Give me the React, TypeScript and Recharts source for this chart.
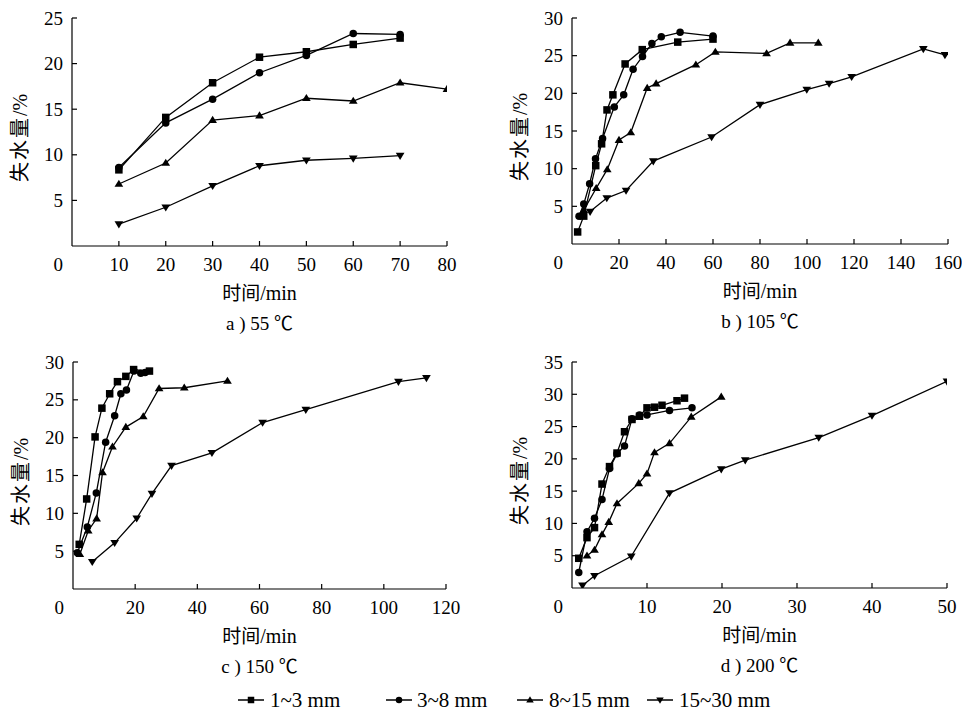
import React from 'react';
import { LineChart, Line, XAxis, YAxis } from 'recharts';

const FONT = "'Liberation Serif', 'Times New Roman', 'Noto Sans CJK SC', serif";
const CJK_FONT = "'Noto Sans CJK SC', 'Liberation Serif', serif";

// ---------- a) 55 ℃ ----------
const aX13 = [10, 20, 30, 40, 50, 60, 70];
const aY13 = [8.35, 14.1, 17.9, 20.7, 21.3, 22.1, 22.8];
const aX38 = [10, 20, 30, 40, 50, 60, 70];
const aY38 = [8.6, 13.5, 16.1, 19.0, 20.9, 23.3, 23.2];
const aX815 = [10, 20, 30, 40, 50, 60, 70, 80];
const aY815 = [6.8, 9.1, 13.8, 14.3, 16.2, 15.9, 17.9, 17.2];
const aX1530 = [10, 20, 30, 40, 50, 60, 70];
const aY1530 = [2.4, 4.25, 6.6, 8.8, 9.4, 9.6, 9.9];

// ---------- b) 105 ℃ ----------
const bX13 = [2.4, 5, 10.1, 12.6, 14.9, 17.4, 22.6, 29.9, 45, 60];
const bY13 = [1.6, 3.7, 10.4, 13.3, 17.8, 19.8, 23.9, 25.8, 26.8, 27.2];
const bX38 = [3, 5, 7.5, 10, 13, 18, 22, 26, 30, 34, 38, 46, 60];
const bY38 = [3.7, 5.3, 8, 11.3, 14, 18.2, 19.8, 23.2, 24.9, 26.6, 27.5, 28.1, 27.6];
const bX815 = [5, 10.3, 15, 20, 25, 32, 35.8, 52.7, 61, 82.8, 92.8, 104.8];
const bY815 = [4.5, 7.4, 9.9, 13.8, 14.8, 20.7, 21.3, 23.8, 25.5, 25.3, 26.7, 26.7];
const bX1530 = [7.7, 14.8, 23, 34.6, 59.4, 80, 99.9, 109.4, 119, 149.5, 158.7];
const bY1530 = [4.3, 6.1, 7.1, 11.0, 14.2, 18.5, 20.5, 21.3, 22.2, 25.9, 25.1];

// ---------- c) 150 ℃ ----------
const cX13 = [2, 4.4, 7.1, 9.3, 11.8, 14.3, 17, 19.5, 24.6];
const cY13 = [5.9, 11.9, 20.1, 23.9, 25.8, 27.4, 28.1, 29.0, 28.8];
const cX38 = [1.4, 4.6, 7.5, 10.5, 13.4, 15.4, 17.2, 19.6, 21.8, 23.2];
const cY38 = [4.8, 8.2, 12.7, 19.4, 22.9, 25.8, 26.3, 28.8, 28.5, 28.6];
const cX815 = [2.2, 4.9, 7.6, 9.5, 12.7, 17, 22.6, 27.7, 35.8, 49.7];
const cY815 = [4.6, 7.7, 9.3, 15.4, 18.8, 21.4, 22.8, 26.5, 26.6, 27.5];
const cX1530 = [6.2, 13.4, 20.5, 25.4, 31.7, 44.7, 61, 74.9, 104.7, 113.7];
const cY1530 = [3.6, 6.1, 9.35, 12.6, 16.3, 18.0, 22.0, 23.7, 27.4, 27.9];

// ---------- d) 200 ℃ ----------
const dX13 = [0.9, 2, 3, 4, 5, 6, 7, 8, 9, 10, 11, 12, 14, 15];
const dY13 = [4.6, 7.8, 9.35, 16.1, 18.8, 20.9, 24.2, 26.1, 26.6, 27.9, 28.0, 28.3, 29.0, 29.4];
const dX38 = [0.9, 2, 3, 4, 5, 6, 7, 8, 9, 10, 13, 16];
const dY38 = [2.4, 8.7, 10.8, 13.7, 18.5, 20.8, 22.0, 26.2, 26.8, 26.8, 27.5, 27.9];
const dX815 = [2, 3, 4, 4.9, 6, 8.9, 10, 11, 13, 15.9, 19.9];
const dY815 = [5.0, 5.9, 8.3, 10.2, 13.1, 16.2, 17.7, 21.0, 22.4, 26.5, 29.6];
const dX1530 = [1.4, 3, 7.9, 13, 19.9, 23.1, 32.9, 40, 50];
const dY1530 = [0.4, 1.9, 4.9, 14.7, 18.4, 19.8, 23.3, 26.7, 32.0];

// ---------- ticks & labels ----------
const xTicksA = [0, 10, 20, 30, 40, 50, 60, 70, 80];
const yTicksA = [5, 10, 15, 20, 25];
const xTicksB = [0, 20, 40, 60, 80, 100, 120, 140, 160];
const yTicksB = [5, 10, 15, 20, 25, 30];
const xTicksC = [0, 20, 40, 60, 80, 100, 120];
const yTicksC = [5, 10, 15, 20, 25, 30];
const xTicksD = [0, 10, 20, 30, 40, 50];
const yTicksD = [5, 10, 15, 20, 25, 30, 35];

const seriesLabels = ['1~3 mm', '3~8 mm', '8~15 mm', '15~30 mm'];
const markerShapes = ['square', 'circle', 'up', 'down'];
const panelTitles = ['a ) 55 ℃', 'b ) 105 ℃', 'c ) 150 ℃', 'd ) 200 ℃'];
const xAxisTitleCn = '时间';
const xAxisTitleUnit = '/min';
const yAxisTitleCn = '失水量';
const yAxisTitleUnit = '/%';

const TICK_FS = 19;

const zip = (xs: number[], ys: number[]) => xs.map((x, i) => ({ x, y: ys[i] }));

function Marker({ shape, cx, cy, s }: { shape: string; cx: number; cy: number; s: number }) {
  if (shape === 'square') {
    return <rect x={cx - s / 2} y={cy - s / 2} width={s} height={s} fill="#000" />;
  }
  if (shape === 'circle') {
    return <circle cx={cx} cy={cy} r={s / 2} fill="#000" />;
  }
  const h = s * 0.95;
  if (shape === 'up') {
    return (
      <polygon
        points={`${cx},${cy - h * 0.6} ${cx - s * 0.58},${cy + h * 0.4} ${cx + s * 0.58},${cy + h * 0.4}`}
        fill="#000"
      />
    );
  }
  return (
    <polygon
      points={`${cx},${cy + h * 0.6} ${cx - s * 0.58},${cy - h * 0.4} ${cx + s * 0.58},${cy - h * 0.4}`}
      fill="#000"
    />
  );
}

function makeDot(shape: string, size: number) {
  return (props: any) => {
    const { cx, cy, index } = props;
    if (cx == null || cy == null) return <g key={`e${index}`} />;
    return <Marker key={`m${index}`} shape={shape} cx={cx} cy={cy} s={size} />;
  };
}

const XTick = (props: any) => {
  const { x, y, payload } = props;
  const v = payload.value;
  if (v === 0) {
    return (
      <text x={x - 9} y={y + 25} textAnchor="end" fontSize={TICK_FS} fontFamily={FONT} fill="#000">
        0
      </text>
    );
  }
  return (
    <g>
      <line x1={x} x2={x} y1={y} y2={y - 5} stroke="#000" strokeWidth={1.2} />
      <text x={x} y={y + 25} textAnchor="middle" fontSize={TICK_FS} fontFamily={FONT} fill="#000">
        {v}
      </text>
    </g>
  );
};

const YTick = (props: any) => {
  const { x, y, payload } = props;
  return (
    <g>
      <line x1={x} x2={x + 5} y1={y} y2={y} stroke="#000" strokeWidth={1.2} />
      <text x={x - 9} y={y + 6.5} textAnchor="end" fontSize={TICK_FS} fontFamily={FONT} fill="#000">
        {payload.value}
      </text>
    </g>
  );
};

type PanelCfg = {
  left0: number;
  top0: number;
  W: number;
  H: number;
  plotL: number;
  plotT: number;
  plotR: number;
  plotB: number;
  xMax: number;
  yMax: number;
  xTicks: number[];
  yTicks: number[];
  series: { x: number; y: number }[][];
  title: string;
};

const Y_AXIS_W = 40;
const X_AXIS_H = 30;

function Panel({ cfg }: { cfg: PanelCfg }) {
  const margin = {
    top: cfg.plotT - cfg.top0,
    left: cfg.plotL - cfg.left0 - Y_AXIS_W,
    right: cfg.left0 + cfg.W - cfg.plotR,
    bottom: cfg.top0 + cfg.H - cfg.plotB - X_AXIS_H,
  };
  const cxPlot = (cfg.plotL + cfg.plotR) / 2;
  const cyPlot = (cfg.plotT + cfg.plotB) / 2;
  const labCx = cfg.plotL - 52;
  const labCy = cyPlot + 6;
  return (
    <>
      <div style={{ position: 'absolute', left: cfg.left0, top: cfg.top0 }}>
        <LineChart width={cfg.W} height={cfg.H} margin={margin}>
          <XAxis
            type="number"
            dataKey="x"
            domain={[0, cfg.xMax]}
            ticks={cfg.xTicks}
            interval={0}
            allowDataOverflow
            height={X_AXIS_H}
            tickSize={0}
            tickMargin={0}
            tickLine={false}
            axisLine={{ stroke: '#000', strokeWidth: 1.2 }}
            tick={<XTick />}
          />
          <YAxis
            type="number"
            domain={[0, cfg.yMax]}
            ticks={cfg.yTicks}
            interval={0}
            allowDataOverflow
            width={Y_AXIS_W}
            tickSize={0}
            tickMargin={0}
            tickLine={false}
            axisLine={{ stroke: '#000', strokeWidth: 1.2 }}
            tick={<YTick />}
          />
          {cfg.series.map((pts, i) => (
            <Line
              key={seriesLabels[i]}
              data={pts}
              dataKey="y"
              name={seriesLabels[i]}
              type="linear"
              stroke="#000"
              strokeWidth={1.3}
              isAnimationActive={false}
              dot={makeDot(markerShapes[i], 7.5)}
              activeDot={false}
            />
          ))}
        </LineChart>
      </div>
      <div
        style={{
          position: 'absolute',
          left: cxPlot - 100,
          width: 200,
          top: cfg.plotB + 36,
          textAlign: 'center',
          fontSize: 20,
          lineHeight: '20px',
          color: '#000',
        }}
      >
        <span style={{ fontFamily: CJK_FONT, fontSize: 19 }}>{xAxisTitleCn}</span>
        <span style={{ fontFamily: FONT }}>{xAxisTitleUnit}</span>
      </div>
      <div
        style={{
          position: 'absolute',
          left: cxPlot - 100,
          width: 200,
          top: cfg.plotB + 68,
          textAlign: 'center',
          fontFamily: FONT,
          fontSize: 19,
          lineHeight: '20px',
        }}
      >
        {cfg.title}
      </div>
      <svg
        width={40}
        height={140}
        style={{ position: 'absolute', left: labCx - 20, top: labCy - 70, overflow: 'visible' }}
      >
        <text
          x={0}
          y={0}
          transform="translate(27,70) rotate(-90)"
          textAnchor="middle"
          fontSize={20}
          fill="#000"
        >
          <tspan fontFamily={CJK_FONT} letterSpacing={2}>{yAxisTitleCn}</tspan>
          <tspan fontFamily={FONT}>{yAxisTitleUnit}</tspan>
        </text>
      </svg>
    </>
  );
}

function LegendIcon({ shape }: { shape: string }) {
  return (
    <svg width={26} height={12} style={{ display: 'block' }}>
      <line x1={0} x2={26} y1={6} y2={6} stroke="#000" strokeWidth={1.5} />
      <Marker shape={shape} cx={13} cy={6} s={6.5} />
    </svg>
  );
}

const legendLineX = [238, 386, 517, 647];
const legendTextX = [270, 417, 549, 679];

export default function App() {
  const panels: PanelCfg[] = [
    {
      left0: 0, top0: 0, W: 470, H: 290,
      plotL: 72, plotT: 18, plotR: 447, plotB: 246,
      xMax: 80, yMax: 25, xTicks: xTicksA, yTicks: yTicksA,
      series: [zip(aX13, aY13), zip(aX38, aY38), zip(aX815, aY815), zip(aX1530, aY1530)],
      title: panelTitles[0],
    },
    {
      left0: 500, top0: 0, W: 462, H: 290,
      plotL: 572, plotT: 18, plotR: 948, plotB: 244,
      xMax: 160, yMax: 30, xTicks: xTicksB, yTicks: yTicksB,
      series: [zip(bX13, bY13), zip(bX38, bY38), zip(bX815, bY815), zip(bX1530, bY1530)],
      title: panelTitles[1],
    },
    {
      left0: 0, top0: 340, W: 470, H: 290,
      plotL: 73, plotT: 362, plotR: 446, plotB: 589,
      xMax: 120, yMax: 30, xTicks: xTicksC, yTicks: yTicksC,
      series: [zip(cX13, cY13), zip(cX38, cY38), zip(cX815, cY815), zip(cX1530, cY1530)],
      title: panelTitles[2],
    },
    {
      left0: 500, top0: 340, W: 462, H: 290,
      plotL: 572, plotT: 362, plotR: 947, plotB: 588,
      xMax: 50, yMax: 35, xTicks: xTicksD, yTicks: yTicksD,
      series: [zip(dX13, dY13), zip(dX38, dY38), zip(dX815, dY815), zip(dX1530, dY1530)],
      title: panelTitles[3],
    },
  ];
  return (
    <div style={{ position: 'absolute', left: 0, top: 0, width: 968, height: 715, background: '#fff', overflow: 'hidden' }}>
      {panels.map((p, i) => (
        <Panel key={i} cfg={p} />
      ))}
      {seriesLabels.map((lab, i) => (
        <React.Fragment key={lab}>
          <div style={{ position: 'absolute', left: legendLineX[i], top: 694 }}>
            <LegendIcon shape={markerShapes[i]} />
          </div>
          <div
            style={{
              position: 'absolute',
              left: legendTextX[i],
              top: 690,
              fontFamily: FONT,
              fontSize: 21,
              lineHeight: '20px',
              whiteSpace: 'nowrap',
            }}
          >
            {lab}
          </div>
        </React.Fragment>
      ))}
    </div>
  );
}
